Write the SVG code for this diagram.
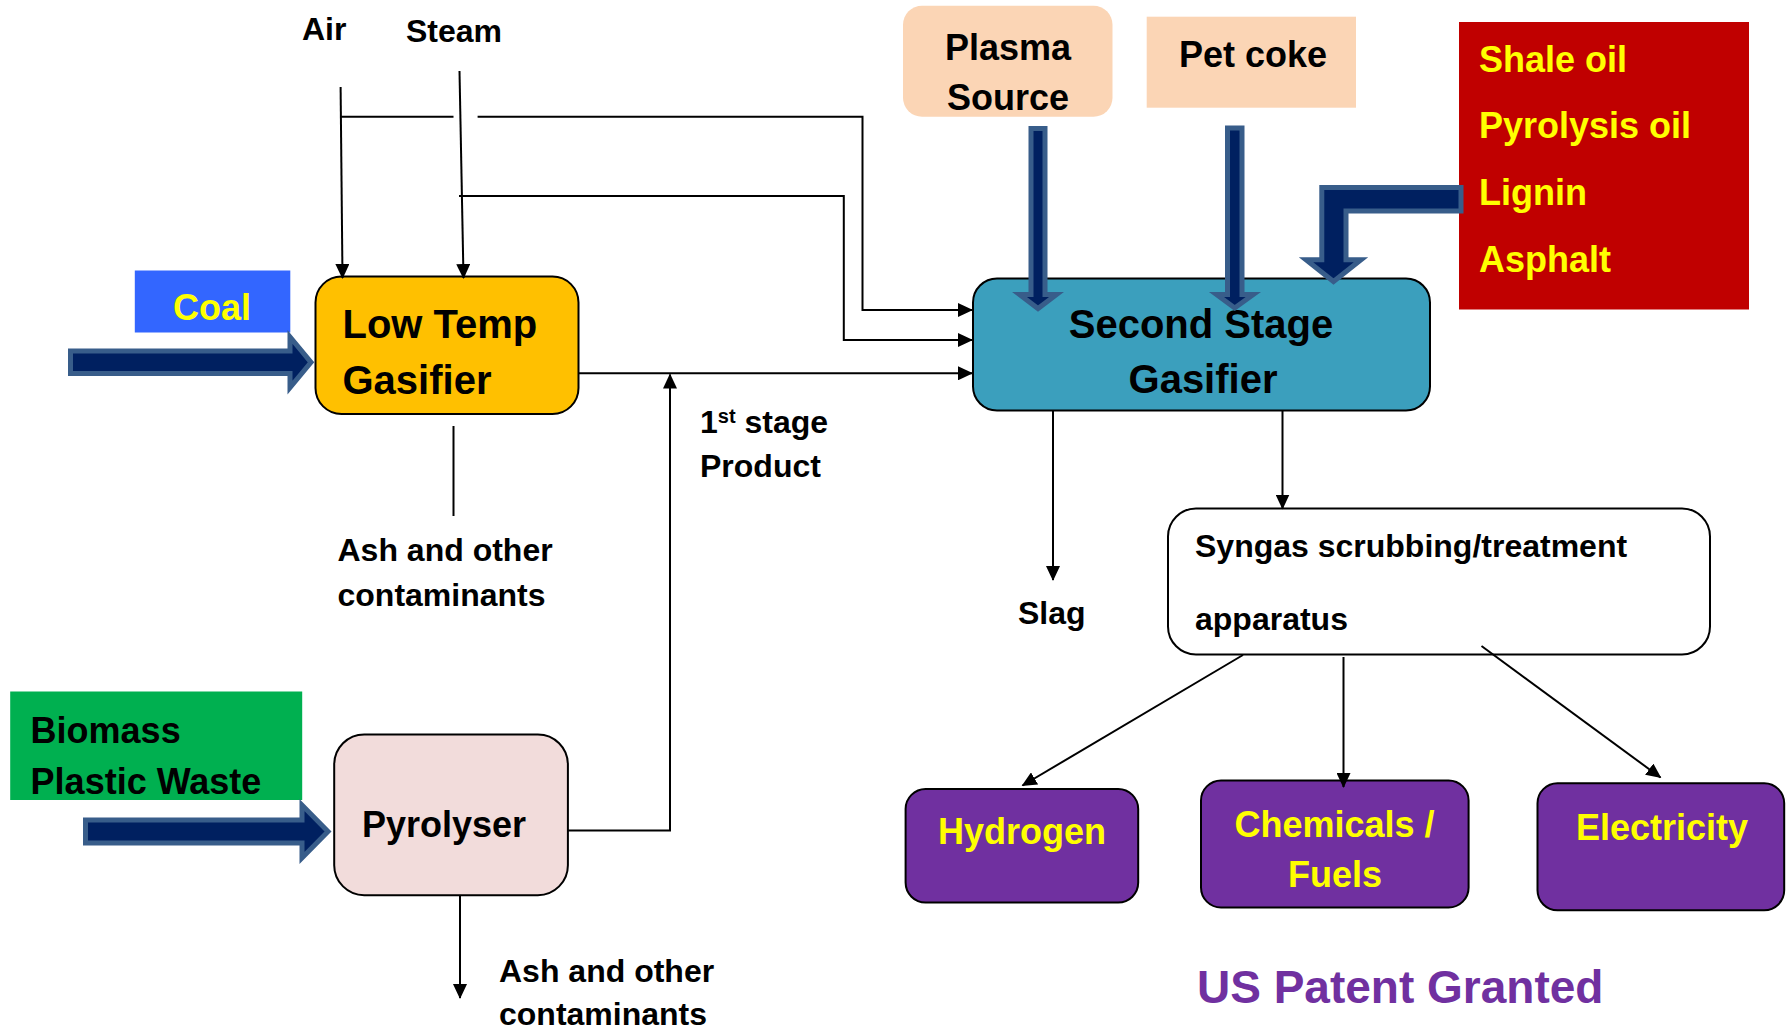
<svg xmlns="http://www.w3.org/2000/svg" width="1791" height="1030" viewBox="0 0 1791 1030">
<defs>
<style>
text{font-family:"Liberation Sans",Arial,sans-serif;font-weight:bold;fill:#000}
.t32{font-size:32px}.t36{font-size:36px}.t40{font-size:40px}
.y{fill:#FFFF00}.mid{text-anchor:middle}
.box{stroke:#000;stroke-width:2}
.ln{fill:none;stroke:#000;stroke-width:2}
.blk{fill:#002060;stroke:#385D8A;stroke-width:5;stroke-linejoin:miter}
</style>
<marker id="ah" markerUnits="userSpaceOnUse" markerWidth="15" markerHeight="14" viewBox="0 0 15 14" refX="14" refY="7" orient="auto">
<path d="M0,0 L15,7 L0,14 z" fill="#000"/>
</marker>
</defs>
<rect width="1791" height="1030" fill="#fff"/>

<g id="label-air"><text class="t32" x="302" y="39.5">Air</text></g>
<g id="label-steam"><text class="t32" x="406" y="42">Steam</text></g>

<g id="coal">
<rect x="134.8" y="270.5" width="155.5" height="62" fill="#3366FF"/>
<text class="t36 y mid" x="212" y="320">Coal</text>
</g>

<g id="low-temp-gasifier">
<rect class="box" x="315.5" y="276.5" width="263" height="137.5" rx="26" fill="#FFC000"/>
<text class="t40" x="342.5" y="337.5">Low Temp</text>
<text class="t40" x="342.5" y="393.5">Gasifier</text>
</g>

<g id="label-ash-1">
<text class="t32" x="337.5" y="561">Ash and other</text>
<text class="t32" x="337.5" y="605.5">contaminants</text>
</g>

<g id="label-first-stage">
<text class="t32" x="700" y="433">1<tspan font-size="20" dy="-10">st</tspan><tspan dy="10"> stage</tspan></text>
<text class="t32" x="700" y="477">Product</text>
</g>

<g id="plasma-source">
<rect x="903" y="5.7" width="209.5" height="111" rx="19" fill="#FBD5B5"/>
<text class="t36 mid" x="1008" y="60">Plasma</text>
<text class="t36 mid" x="1008" y="110">Source</text>
</g>

<g id="pet-coke">
<rect x="1146.7" y="16.7" width="209.3" height="91" fill="#FBD5B5"/>
<text class="t36" x="1179" y="66.7">Pet coke</text>
</g>

<g id="liquid-feeds">
<rect x="1459" y="22" width="290" height="287.5" fill="#C00000"/>
<text class="t36 y" x="1479" y="71.7">Shale oil</text>
<text class="t36 y" x="1479" y="138.3">Pyrolysis oil</text>
<text class="t36 y" x="1479" y="205">Lignin</text>
<text class="t36 y" x="1479" y="271.7">Asphalt</text>
</g>

<g id="second-stage-gasifier">
<rect class="box" x="973" y="278.5" width="457" height="132" rx="24" fill="#3B9FBD"/>
<text class="t40 mid" x="1201" y="338.3">Second Stage</text>
<text class="t40 mid" x="1203" y="393.3">Gasifier</text>
</g>

<g id="label-slag"><text class="t32" x="1018" y="624">Slag</text></g>

<g id="syngas-treatment">
<rect class="box" x="1168" y="508.5" width="542" height="146" rx="28" fill="#fff"/>
<text class="t32" x="1195" y="557.4">Syngas scrubbing/treatment</text>
<text class="t32" x="1195" y="629.6">apparatus</text>
</g>

<g id="biomass">
<rect x="10.2" y="691.5" width="292" height="108.5" fill="#00B050"/>
<text class="t36" x="30.6" y="742.6">Biomass</text>
<text class="t36" x="30.6" y="793.7">Plastic Waste</text>
</g>

<g id="pyrolyser">
<rect class="box" x="334.2" y="734.4" width="233.7" height="160.8" rx="30" fill="#F2DCDB"/>
<text class="t36" x="362" y="837">Pyrolyser</text>
</g>

<g id="label-ash-2">
<text class="t32" x="499" y="981.5">Ash and other</text>
<text class="t32" x="499" y="1024.5">contaminants</text>
</g>

<g id="hydrogen">
<rect class="box" x="905.6" y="789" width="232.6" height="113.6" rx="20" fill="#7030A0"/>
<text class="t36 y mid" x="1022" y="844.4">Hydrogen</text>
</g>

<g id="chemicals-fuels">
<rect class="box" x="1201" y="780.5" width="267.6" height="127" rx="20" fill="#7030A0"/>
<text class="t36 y mid" x="1334.5" y="837">Chemicals /</text>
<text class="t36 y mid" x="1335" y="887">Fuels</text>
</g>

<g id="electricity">
<rect class="box" x="1537.5" y="783.3" width="246.7" height="127" rx="20" fill="#7030A0"/>
<text class="t36 y mid" x="1662" y="839.6">Electricity</text>
</g>

<g id="label-patent"><text x="1197" y="1002.6" style="font-size:46px;fill:#7030A0">US Patent Granted</text></g>

<g id="connectors">
<path class="ln" d="M340.6,87 L342.5,278" marker-end="url(#ah)"/>
<path class="ln" d="M459.5,71 L463.5,278" marker-end="url(#ah)"/>
<path class="ln" d="M340.6,116.7 H453.5"/>
<path class="ln" d="M477.6,116.7 H862.5 V310 H972" marker-end="url(#ah)"/>
<path class="ln" d="M459,196 H843.8 V340 H972" marker-end="url(#ah)"/>
<path class="ln" d="M578.6,373.3 H972" marker-end="url(#ah)"/>
<path class="ln" d="M567.9,830.4 H670 V374.5" marker-end="url(#ah)"/>
<path class="ln" d="M453.5,426 V516"/>
<path class="ln" d="M460,895.2 V998" marker-end="url(#ah)"/>
<path class="ln" d="M1053,410.5 V580" marker-end="url(#ah)"/>
<path class="ln" d="M1282.5,410.5 V508.5" marker-end="url(#ah)"/>
<path class="ln" d="M1243,655 L1022.5,785.5" marker-end="url(#ah)"/>
<path class="ln" d="M1343.5,657 V787" marker-end="url(#ah)"/>
<path class="ln" d="M1481.5,646 L1660.5,777.5" marker-end="url(#ah)"/>
<g id="block-arrows">
<path class="blk" d="M70.5,351 L290,351 L290,337 L311,362.3 L290,387.5 L290,373.5 L70.5,373.5 Z"/>
<path class="blk" d="M85.5,820 L302,820 L302,805 L328,831.5 L302,858 L302,843 L85.5,843 Z"/>
<path class="blk" d="M1031,128.5 L1045,128.5 L1045,294.5 L1056.5,294.5 L1038,308.5 L1019.5,294.5 L1031,294.5 Z"/>
<path class="blk" d="M1227.5,128 L1242,128 L1242,294.5 L1253.3,294.5 L1234.7,308 L1216.5,294.5 L1227.5,294.5 Z"/>
<path class="blk" d="M1461,187.5 L1461,211 L1346,211 L1346,259.8 L1361,259.8 L1333.5,281.5 L1306,259.8 L1321.8,259.8 L1321.8,187.5 Z"/>
</g>
</g>
</svg>
